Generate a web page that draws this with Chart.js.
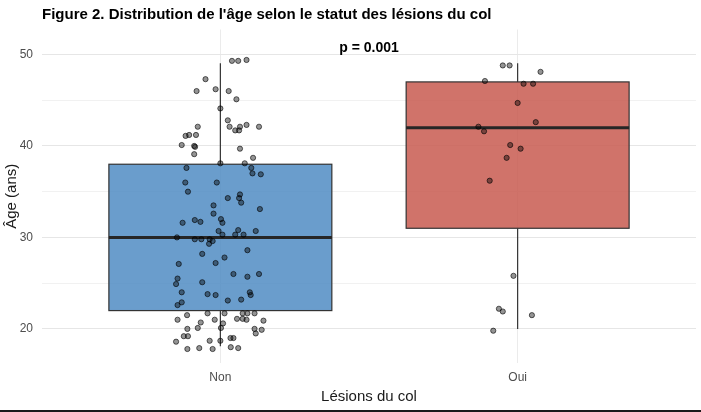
<!DOCTYPE html>
<html>
<head>
<meta charset="utf-8">
<script src="https://cdn.jsdelivr.net/npm/chart.js@4"></script>
<style>
  html, body { margin: 0; padding: 0; background: #fff; }
  #wrap { width: 701px; height: 412px; }
</style>
</head>
<body>
<div id="wrap"><canvas id="grafico"></canvas></div>
<script>
// Catégories et statistiques des boîtes
var categories = ['Non', 'Oui'];
var boxQ1 = [22, 31];
var boxMedian = [30, 42];
var boxQ3 = [38, 47];
var whiskerLow = [18.1, 20];
var whiskerHigh = [49.05, 49.05];
var boxColors = ['rgba(80,140,195,0.85)', 'rgba(200,90,80,0.85)'];

// Points individuels (décalage horizontal du jitter, âge)
var nonJitter = [0.039, 0.060, 0.088, -0.050, -0.080, -0.016, 0.028, 0.054, 0, 0.025,
  -0.076, 0.031, 0.066, 0.088, 0.130, 0.050, 0.063, -0.117, -0.105, -0.082,
  -0.130, -0.088, -0.085, 0.066, -0.088, 0.110, 0, 0.082, -0.114, 0.104,
  0.108, 0.136, -0.118, -0.012, -0.109, 0.025, 0.066, 0.063, 0.070, -0.023,
  0.133, -0.023, -0.127, -0.086, -0.067, 0.002, 0.007, -0.006, 0.007, 0.060,
  0.050, 0.078, 0.119, -0.146, -0.086, -0.064, -0.036, -0.026, -0.038, 0.091,
  -0.061, 0.014, -0.140, -0.016, 0.044, 0.130, 0.091, -0.144, -0.061, -0.149,
  -0.130, 0.099, 0.102, -0.043, -0.016, 0.070, 0.025, -0.130, -0.144, -0.112,
  -0.043, 0.014, 0.075, 0.091, 0.115, -0.144, -0.019, 0.056, 0.075, 0.088,
  0.145, -0.066, 0.009, -0.111, -0.076, 0.002, 0.115, 0.139, 0.119, -0.123,
  -0.109, -0.036, 0, 0.034, 0.044, -0.149, -0.111, -0.071, -0.026, 0.035, 0.060];
var nonAge = [49.3, 49.3, 49.4, 47.3, 46.0, 46.2, 46.0, 45.1, 44.1, 42.8,
  42.1, 42.1, 42.1, 42.3, 42.1, 41.7, 41.7, 41.1, 41.2, 41.2,
  40.1, 40.0, 39.9, 39.7, 39.1, 38.7, 38.1, 38.1, 37.6, 37.6,
  37.0, 36.9, 36.0, 36.0, 35.0, 34.3, 34.7, 34.3, 33.8, 33.5,
  33.1, 32.6, 31.6, 31.9, 31.7, 32.0, 31.6, 30.7, 30.3, 30.8,
  30.3, 30.3, 30.7, 30.0, 29.8, 29.8, 29.8, 29.6, 29.3, 28.6,
  28.2, 27.8, 27.1, 27.2, 26.0, 26.0, 25.7, 25.5, 25.1, 24.9,
  24.0, 24.0, 23.7, 23.8, 23.7, 23.2, 23.1, 22.9, 22.6, 21.5,
  21.7, 21.7, 21.7, 21.7, 21.7, 21.0, 21.0, 21.1, 21.1, 21.0,
  20.9, 20.7, 20.6, 20.0, 20.1, 20.1, 20.0, 19.9, 19.5, 19.2,
  19.2, 18.7, 18.7, 19.0, 19.0, 18.6, 17.8, 17.9, 17.8, 18.0, 17.9];
var ouiJitter = [-0.050, -0.027, 0.077, -0.110, 0.020, 0.052, 0, 0.061, -0.132, -0.113,
  -0.025, 0.010, -0.037, -0.094, -0.014, -0.063, -0.050, 0.048, -0.082];
var ouiAge = [48.8, 48.8, 48.1, 47.1, 46.8, 46.8, 44.7, 42.6, 42.1, 41.6,
  40.1, 39.7, 38.7, 36.2, 25.8, 22.2, 21.9, 21.5, 19.8];

var yTicks = [20, 25, 30, 35, 40, 45, 50];
var yLabels = [20, 30, 40, 50];
var pValueText = 'p = 0.001';

var FONT = "'Liberation Sans', Arial, sans-serif";

function buildPoints(jitter, ages, pos) {
    var pts = [];
    for (var i = 0; i < ages.length; i++) {
        pts.push({ x: pos + jitter[i], y: ages[i] });
    }
    return pts;
}

// Plugin pour dessiner les boîtes à moustaches sous les points
var boxPlugin = {
    id: 'boites',
    beforeDatasetsDraw: function(chart) {
        var ctx = chart.ctx;
        var xs = chart.scales.x, ys = chart.scales.y;
        ctx.save();
        for (var i = 0; i < categories.length; i++) {
            var cx = xs.getPixelForValue(i + 1);
            var half = xs.getPixelForValue(i + 1 + 0.375) - cx;
            var yq1 = ys.getPixelForValue(boxQ1[i]);
            var yq3 = ys.getPixelForValue(boxQ3[i]);
            var ymed = ys.getPixelForValue(boxMedian[i]);
            // moustaches
            ctx.strokeStyle = '#333333';
            ctx.lineWidth = 1.2;
            ctx.beginPath();
            ctx.moveTo(cx, ys.getPixelForValue(whiskerHigh[i]));
            ctx.lineTo(cx, yq3);
            ctx.moveTo(cx, yq1);
            ctx.lineTo(cx, ys.getPixelForValue(whiskerLow[i]));
            ctx.stroke();
            // boîte
            ctx.fillStyle = boxColors[i];
            ctx.fillRect(cx - half, yq3, half * 2, yq1 - yq3);
            ctx.strokeStyle = '#333333';
            ctx.lineWidth = 1.2;
            ctx.strokeRect(cx - half, yq3, half * 2, yq1 - yq3);
            // médiane
            ctx.strokeStyle = '#262626';
            ctx.lineWidth = 3;
            ctx.beginPath();
            ctx.moveTo(cx - half, ymed);
            ctx.lineTo(cx + half, ymed);
            ctx.stroke();
        }
        ctx.restore();
    },
    afterDraw: function(chart) {
        var ctx = chart.ctx;
        var xs = chart.scales.x, ys = chart.scales.y;
        ctx.save();
        // annotation p-value
        ctx.font = 'bold 14px ' + FONT;
        ctx.fillStyle = '#000';
        ctx.textAlign = 'center';
        ctx.textBaseline = 'middle';
        ctx.fillText(pValueText, xs.getPixelForValue(1.5), ys.getPixelForValue(50.7));
        // trait du bas
        ctx.fillStyle = '#1a1a1a';
        ctx.fillRect(0, 410, chart.width, 2);
        ctx.restore();
    }
};

var ctx = document.getElementById('grafico').getContext('2d');
var grafico = new Chart(ctx, {
    type: 'scatter',
    data: {
        datasets: [{
            label: 'Non',
            data: buildPoints(nonJitter, nonAge, 1),
            backgroundColor: 'rgba(0,0,0,0.42)',
            borderColor: 'rgba(0,0,0,0.6)',
            borderWidth: 1,
            pointRadius: 2.6
        }, {
            label: 'Oui',
            data: buildPoints(ouiJitter, ouiAge, 2),
            backgroundColor: 'rgba(0,0,0,0.42)',
            borderColor: 'rgba(0,0,0,0.6)',
            borderWidth: 1,
            pointRadius: 2.6
        }]
    },
    options: {
        responsive: true,
        maintainAspectRatio: false,
        animation: false,
        layout: { padding: { left: 0, right: 5, top: 0, bottom: 4 } },
        plugins: {
            legend: { display: false },
            tooltip: { enabled: false },
            title: {
                display: true,
                text: "Figure 2. Distribution de l'âge selon le statut des lésions du col",
                align: 'start',
                fullSize: false,
                color: '#000',
                font: { family: FONT, size: 15, weight: 'bold', lineHeight: 1.2 },
                padding: { top: 6, bottom: 5.5 }
            }
        },
        scales: {
            x: {
                type: 'linear',
                min: 0.4,
                max: 2.6,
                afterBuildTicks: function(scale) {
                    scale.ticks = categories.map(function(c, i) { return { value: i + 1 }; });
                },
                afterFit: function(scale) { scale.height = 45; },
                ticks: {
                    color: '#4d4d4d',
                    font: { family: FONT, size: 12 },
                    padding: 7,
                    callback: function(v) { return categories[v - 1]; }
                },
                grid: { color: '#ebebeb', lineWidth: 1, drawTicks: false },
                border: { display: false },
                title: {
                    display: true,
                    text: 'Lésions du col',
                    color: '#1a1a1a',
                    font: { family: FONT, size: 15 },
                    padding: { top: 0, bottom: 2 }
                }
            },
            y: {
                min: 16.27,
                max: 52.73,
                afterBuildTicks: function(scale) {
                    scale.ticks = yTicks.map(function(v) { return { value: v }; });
                },
                afterFit: function(scale) { scale.width = 42; },
                ticks: {
                    color: '#4d4d4d',
                    font: { family: FONT, size: 12 },
                    padding: 9,
                    callback: function(v) { return yLabels.indexOf(v) >= 0 ? String(v) : ''; }
                },
                grid: {
                    color: function(c) { return (c.tick && yLabels.indexOf(c.tick.value) >= 0) ? '#e6e6e6' : '#f1f1f1'; },
                    lineWidth: 1,
                    drawTicks: false
                },
                border: { display: false },
                title: {
                    display: true,
                    text: 'Âge (ans)',
                    color: '#1a1a1a',
                    font: { family: FONT, size: 15 },
                    padding: { top: 3, bottom: 0 }
                }
            }
        }
    },
    plugins: [boxPlugin]
});
</script>
</body>
</html>
